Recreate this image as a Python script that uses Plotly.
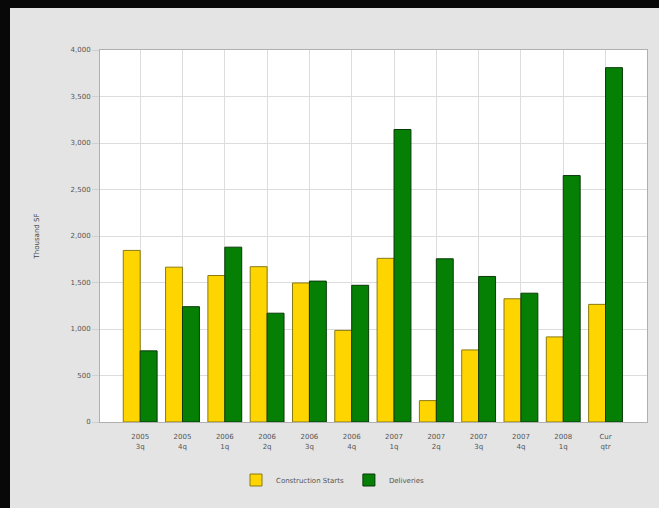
import plotly.graph_objects as go

# Quarterly office market activity (thousand square feet)
quarters = ["2005<br>3q", "2005<br>4q", "2006<br>1q", "2006<br>2q", "2006<br>3q", "2006<br>4q",
            "2007<br>1q", "2007<br>2q", "2007<br>3q", "2007<br>4q", "2008<br>1q", "Cur<br>qtr"]
construction_starts = [1845, 1665, 1575, 1670, 1495, 985, 1760, 230, 775, 1325, 915, 1265]
deliveries = [765, 1240, 1880, 1170, 1515, 1470, 3145, 1755, 1565, 1385, 2650, 3810]
y_ticks = [0, 500, 1000, 1500, 2000, 2500, 3000, 3500, 4000]

W, H = 659, 508
L, R, T, B = 100, 12, 50, 86
pw, ph = W - L - R, H - T - B


def px_x(p):
    return (p - L) / pw


def px_y(p):
    return (H - B - p) / ph


fig = go.Figure()
fig.add_trace(go.Bar(
    x=quarters, y=construction_starts, name="Construction Starts",
    marker=dict(color="#ffd500", line=dict(color="#8a7a10", width=1)),
))
fig.add_trace(go.Bar(
    x=quarters, y=deliveries, name="Deliveries",
    marker=dict(color="#058005", line=dict(color="#0a3a0a", width=1)),
))

# dark frame along the top and left edges of the page
fig.add_shape(type="rect", xref="paper", yref="paper", layer="below",
              x0=px_x(-2), x1=px_x(W + 2), y0=px_y(8), y1=px_y(-2),
              fillcolor="#080808", line=dict(width=0))
fig.add_shape(type="rect", xref="paper", yref="paper", layer="below",
              x0=px_x(-2), x1=px_x(10), y0=px_y(H + 2), y1=px_y(-2),
              fillcolor="#080808", line=dict(width=0))

fig.update_layout(
    width=W, height=H,
    margin=dict(l=L, r=R, t=T, b=B),
    paper_bgcolor="#e4e4e4",
    plot_bgcolor="#ffffff",
    barmode="group", bargap=0.2, bargroupgap=0,
    font=dict(family="DejaVu Sans", size=7, color="#555555"),
    showlegend=True,
    legend=dict(orientation="h", x=px_x(333), y=px_y(480), xanchor="center", yanchor="middle",
                font=dict(size=7, color="#555555"), bgcolor="rgba(0,0,0,0)",
                itemwidth=30, traceorder="normal"),
)
fig.update_xaxes(
    range=[-0.95, 11.98], showgrid=True, gridcolor="#dcdcdc", gridwidth=1,
    showline=True, linecolor="#b0b0b0", linewidth=1, mirror=True,
    ticks="outside", ticklen=8, tickcolor="rgba(0,0,0,0)",
    tickfont=dict(size=7, color="#555555"), tickangle=0,
)
fig.update_yaxes(
    range=[0, 4000], tickvals=y_ticks, tickformat=",d",
    showgrid=True, gridcolor="#dcdcdc", gridwidth=1, zeroline=False,
    showline=True, linecolor="#b0b0b0", linewidth=1, mirror=True,
    ticks="outside", ticklen=7, tickcolor="#d0d0d0",
    tickfont=dict(size=7, color="#555555"),
    title=dict(text="Thousand SF", font=dict(size=7, color="#444444"), standoff=30),
)

fig.write_html("out.html")
